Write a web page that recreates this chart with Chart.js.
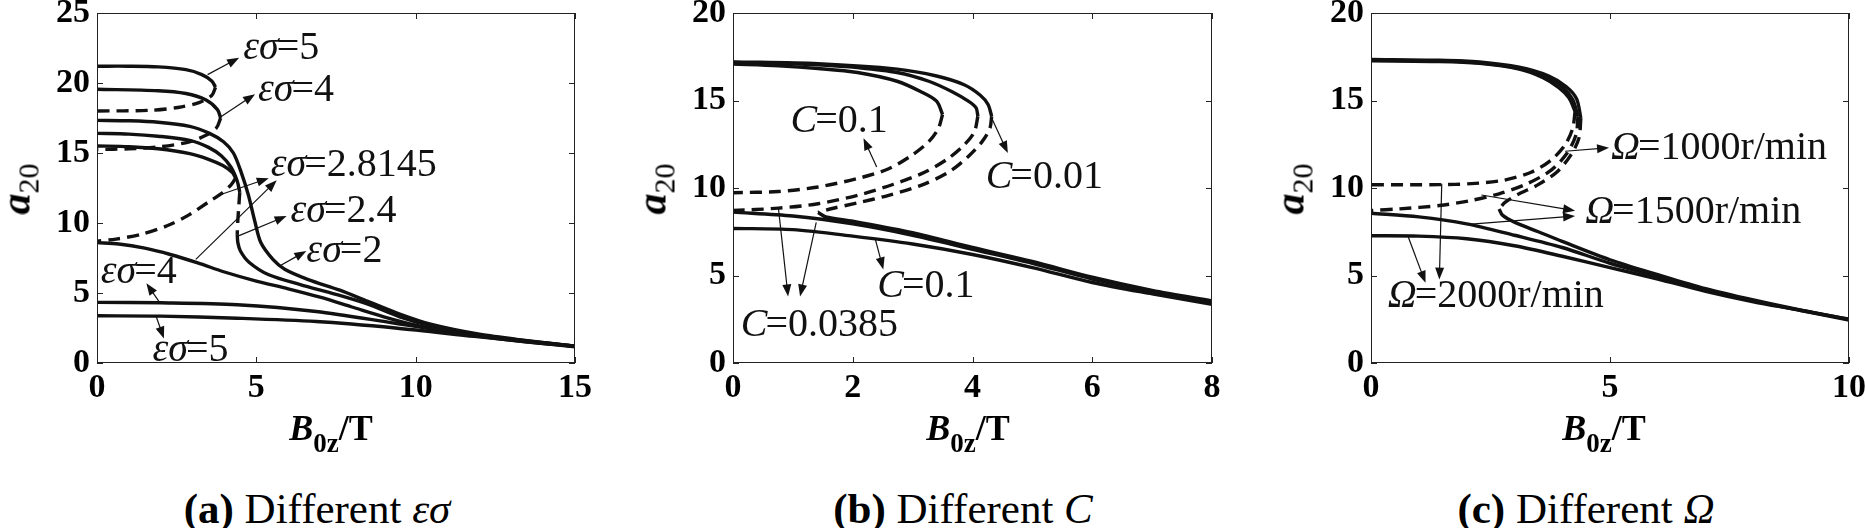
<!DOCTYPE html>
<html>
<head>
<meta charset="utf-8">
<script src="https://cdn.jsdelivr.net/npm/chart.js@4.4.1/dist/chart.umd.min.js"></script>
<style>
  body { margin: 0; background: #fff; width: 1865px; height: 528px; overflow: hidden; position: relative; font-family: "Liberation Serif", serif; color: #000; }
  canvas { position: absolute; }
  .ytitle { position: absolute; top: 189px; font-size: 42px; line-height: 44px; white-space: nowrap; transform: translate(-50%, -50%) rotate(-90deg); }
  .ytitle sub { font-size: 30px; font-weight: normal; vertical-align: -0.3em; }
  .xtitle { position: absolute; top: 410px; font-size: 36px; line-height: 36px; font-weight: bold; white-space: nowrap; transform: translateX(-50%); }
  .xtitle sub { font-size: 27px; vertical-align: -0.45em; }
  .caption { position: absolute; top: 487px; font-size: 43px; line-height: 43px; white-space: nowrap; transform: translateX(-50%); }
</style>
</head>
<body>
<canvas id="chartA"></canvas>
<canvas id="chartB"></canvas>
<canvas id="chartC"></canvas>

<div class="ytitle" style="left:22px"><b><i>a</i></b><sub>20</sub></div>
<div class="ytitle" style="left:658px"><b><i>a</i></b><sub>20</sub></div>
<div class="ytitle" style="left:1296px"><b><i>a</i></b><sub>20</sub></div>

<div class="xtitle" style="left:331px"><i>B</i><sub>0z</sub>/T</div>
<div class="xtitle" style="left:968px"><i>B</i><sub>0z</sub>/T</div>
<div class="xtitle" style="left:1604px"><i>B</i><sub>0z</sub>/T</div>

<div class="caption" style="left:317px"><b>(a)</b> Different <i>εσ</i></div>
<div class="caption" style="left:963px"><b>(b)</b> Different <i>C</i></div>
<div class="caption" style="left:1586px"><b>(c)</b> Different <i>Ω</i></div>

<script>
// ---- (a) different εσ : [B0z, a20]
const es5Upper    = [[0,21.2],[1,21.2],[1.92,21.15],[2.79,20.95],[3.29,20.6],[3.6,20.15],[3.72,19.7]];
const es5Unstable = [[3.72,19.7],[3.6,19.1],[3.2,18.6],[2.54,18.25],[1.67,18.05],[0,18.0]];
const es5Lower    = [[0,3.37],[2,3.35],[4.4,3.2],[6.88,2.96],[9.36,2.5],[11.84,1.9],[15,1.15]];
const es4Upper    = [[0,19.55],[1.92,19.45],[2.79,19.25],[3.41,18.8],[3.78,18.1],[3.88,17.5]];
const es4Unstable = [[3.88,17.5],[3.75,16.8],[3.45,16.3],[2.9,15.8],[2.0,15.45],[1.0,15.3],[0,15.25]];
const es4Lower    = [[0,4.33],[2,4.3],[4.4,4.16],[6.88,3.68],[9.36,2.84],[11.84,2.0],[15,1.2]];
const esCrUpper    = [[0,15.5],[1,15.45],[1.92,15.3],[2.91,14.95],[3.5,14.55],[3.95,14.1],[4.25,13.6],[4.35,13.2]];
const esCrUnstable = [[4.35,13.2],[4.2,12.7],[3.9,12.1],[3.5,11.5],[2.9,10.6],[2.2,9.8],[1.4,9.2],[0.6,8.85],[0,8.7]];
const esCrLower    = [[0,8.6],[0.68,8.5],[1.5,8.2],[2.3,7.75],[3.16,7.15],[4.0,6.5],[5.0,5.85],[6.0,5.3],[7.0,4.7],[8.0,4.0],[9.0,3.3],[10,2.7],[11,2.25],[12,1.9],[13.5,1.5],[15,1.2]];
const es24Upper    = [[0,16.4],[1,16.35],[1.92,16.2],[2.91,15.9],[3.5,15.4],[3.9,14.8],[4.2,14.0],[4.4,13.0],[4.48,12.2]];
const es24Unstable = [[4.48,12.2],[4.45,11.2],[4.42,10.2],[4.4,9.2]];
const es24Lower    = [[4.4,9.2],[4.42,8.6],[4.5,8.0],[4.77,7.2],[5.39,6.3],[6.38,5.6],[7.5,4.9],[8.5,4.2],[9.5,3.3],[10.5,2.65],[12,2.0],[13.5,1.55],[15,1.2]];
const es2Curve     = [[0,17.33],[1,17.3],[1.92,17.2],[2.91,16.9],[3.53,16.4],[3.97,15.8],[4.28,15.0],[4.52,13.65],[4.75,12.0],[4.96,10.05],[5.14,8.6],[5.52,7.4],[5.89,6.7],[6.63,5.96],[7.62,5.2],[8.5,4.4],[9.5,3.5],[10.5,2.75],[12,2.05],[13.5,1.6],[15,1.2]];

// ---- (b) different C
const c01Upper    = [[0,17.08],[0.76,16.98],[1.42,16.83],[2.08,16.6],[2.74,16.1],[3.14,15.5],[3.4,14.96],[3.5,14.2]];
const c01Unstable = [[3.5,14.2],[3.43,13.4],[3.27,12.65],[3.0,11.9],[2.6,11.1],[2.08,10.54],[1.42,10.06],[0.76,9.8],[0,9.73]];
const c01Lower    = [[0,7.69],[1,7.62],[2,7.25],[3,6.8],[4,6.2],[5,5.45],[6,4.6],[7,3.95],[8,3.35]];
const c0385Upper    = [[0,17.17],[0.76,17.13],[1.42,17.04],[2.08,16.88],[2.74,16.6],[3.27,16.1],[3.66,15.5],[3.93,14.96],[4.06,14.58],[4.09,14.1]];
const c0385Unstable = [[4.09,14.1],[4.03,13.2],[3.86,12.46],[3.6,11.7],[3.2,10.9],[2.67,10.2],[2.08,9.58],[1.42,9.1],[0.76,8.85],[0,8.71]];
const c0385Lower    = [[0,8.62],[1,8.4],[2,7.95],[3,7.3],[4,6.5],[5,5.7],[6,4.8],[7,4.1],[8,3.5]];
const c001Upper    = [[0,17.21],[1.42,17.1],[2.74,16.79],[3.4,16.4],[3.86,15.9],[4.13,15.3],[4.26,14.77],[4.32,14.1]];
const c001Unstable = [[4.32,14.1],[4.29,13.4],[4.16,12.65],[3.93,11.8],[3.6,10.9],[3.14,10.15],[2.6,9.58],[2.08,9.15],[1.62,8.8],[1.42,8.6]];
const c001Lower    = [[1.42,8.6],[1.55,8.35],[2,8.1],[3,7.45],[4,6.6],[5,5.8],[6,4.9],[7,4.15],[8,3.55]];

// ---- (c) different Ω
const om1000Upper    = [[0,17.35],[1.43,17.3],[2.27,17.2],[3.1,16.9],[3.72,16.4],[4.08,15.8],[4.3,15.1],[4.39,14.0]];
const om1000Unstable = [[4.39,14.0],[4.35,12.85],[4.18,11.88],[3.89,10.92],[3.47,10.15],[3.1,9.67],[2.81,9.19],[2.68,8.8]];
const om1000Lower    = [[2.68,8.8],[2.75,8.45],[3.0,8.05],[3.5,7.5],[4,6.95],[5,5.9],[6,5.05],[7,4.25],[8,3.6],[9,3.02],[10,2.5]];
const om1500Upper    = [[0,17.3],[1.43,17.27],[2.27,17.15],[3.1,16.83],[3.68,16.35],[4.02,15.73],[4.22,15.06],[4.33,14.1]];
const om1500Unstable = [[4.33,14.1],[4.29,13.04],[4.1,11.98],[3.77,11.02],[3.27,10.25],[2.68,9.67],[2.1,9.29],[1.43,9.0],[0.6,8.81],[0,8.71]];
const om1500Lower    = [[0,8.56],[1,8.35],[2,7.95],[3,7.3],[4,6.6],[5,5.7],[6,4.95],[7,4.2],[8,3.55],[9,3.0],[10,2.5]];
const om2000Upper    = [[0,17.27],[1.43,17.23],[2.27,17.12],[3.1,16.79],[3.6,16.3],[3.93,15.73],[4.14,15.15],[4.27,14.38]];
const om2000Unstable = [[4.27,14.38],[4.22,13.42],[4.06,12.46],[3.77,11.6],[3.35,10.9],[2.77,10.44],[2.1,10.25],[1.43,10.19],[0,10.19]];
const om2000Lower    = [[0,7.27],[1,7.25],[2,7.1],[3,6.7],[4,6.1],[5,5.45],[6,4.8],[7,4.1],[8,3.5],[9,3.0],[10,2.45]];

// labels: [x, y, italic part, rest] and arrows: [x0, y0, x1, y1] (head at x1,y1)
const labelsA = [[4.59,22.5,'εσ','=5'],[5.05,19.5,'εσ','=4'],[5.45,14.1,'εσ','=2.8145'],[6.07,10.8,'εσ','=2.4'],[6.57,8.0,'εσ','=2'],[0.12,6.5,'εσ','=4'],[1.74,0.9,'εσ','=5']];
const arrowsA = [[3.47,20.6,4.46,21.8],[3.9,17.6,4.96,19.2],[3.84,12.0,5.39,13.2],[3.1,7.4,5.64,13.05],[4.46,9.1,5.95,10.5],[5.7,6.9,6.57,8.0],[1.98,4.28,1.55,5.7],[1.86,3.3,2.1,1.75]];
const labelsB = [[0.96,13.8,'C','=0.1'],[4.22,10.6,'C','=0.01'],[2.41,4.4,'C','=0.1'],[0.13,2.17,'C','=0.0385']];
const arrowsB = [[2.4,11.2,2.18,12.85],[4.32,14.0,4.59,12.0],[2.38,7.04,2.51,5.35],[0.76,8.81,0.92,3.8],[1.39,8.04,1.12,3.8]];
const labelsC = [[5.02,12.27,'Ω','=1000r/min'],[4.48,8.6,'Ω','=1500r/min'],[0.35,3.8,'Ω','=2000r/min']];
const arrowsC = [[4.06,12.1,4.98,12.3],[2.31,9.6,4.27,8.7],[2.1,7.94,4.27,8.4],[0.77,7.27,1.14,4.58],[1.48,10.25,1.43,4.77]];

const FONT = '"Liberation Serif", serif';
const W_Y = 100, H_X = 60, PAD_T = 40, PAD_R = 40;
const TOP = 13, BOTTOM = 363;

function solid(pts) {
    return { data: pts.map(p => ({ x: p[0], y: p[1] })), borderColor: '#111', borderWidth: 3.4, tension: 0.3, pointRadius: 0, showLine: true };
}
function dashed(pts) {
    const d = solid(pts);
    d.borderDash = [12, 7];
    return d;
}

// frame with inward ticks, annotation texts and arrows
function makeDecor(labels, arrows) {
    return {
        id: 'decor',
        afterDatasetsDraw(chart) {
            const { ctx, chartArea: a, scales: { x, y } } = chart;
            ctx.save();
            ctx.strokeStyle = '#222';
            ctx.lineWidth = 1;
            ctx.strokeRect(a.left + 0.5, a.top + 0.5, a.width - 1, a.height - 1);
            ctx.beginPath();
            x.ticks.forEach(t => {
                const px = Math.round(x.getPixelForValue(t.value)) + 0.5;
                ctx.moveTo(px, a.bottom); ctx.lineTo(px, a.bottom - 6);
                ctx.moveTo(px, a.top); ctx.lineTo(px, a.top + 6);
            });
            y.ticks.forEach(t => {
                const py = Math.round(y.getPixelForValue(t.value)) + 0.5;
                ctx.moveTo(a.left, py); ctx.lineTo(a.left + 6, py);
                ctx.moveTo(a.right, py); ctx.lineTo(a.right - 6, py);
            });
            ctx.stroke();

            // arrows
            ctx.strokeStyle = '#111';
            ctx.fillStyle = '#111';
            ctx.lineWidth = 1.2;
            arrows.forEach(ar => {
                const x0 = x.getPixelForValue(ar[0]), y0 = y.getPixelForValue(ar[1]);
                const x1 = x.getPixelForValue(ar[2]), y1 = y.getPixelForValue(ar[3]);
                const ang = Math.atan2(y1 - y0, x1 - x0);
                ctx.beginPath();
                ctx.moveTo(x0, y0);
                ctx.lineTo(x1 - 8 * Math.cos(ang), y1 - 8 * Math.sin(ang));
                ctx.stroke();
                ctx.beginPath();
                ctx.moveTo(x1, y1);
                ctx.lineTo(x1 - 12 * Math.cos(ang) + 4.5 * Math.sin(ang), y1 - 12 * Math.sin(ang) - 4.5 * Math.cos(ang));
                ctx.lineTo(x1 - 12 * Math.cos(ang) - 4.5 * Math.sin(ang), y1 - 12 * Math.sin(ang) + 4.5 * Math.cos(ang));
                ctx.closePath();
                ctx.fill();
            });

            // labels
            ctx.textBaseline = 'middle';
            ctx.textAlign = 'left';
            labels.forEach(lb => {
                const px = x.getPixelForValue(lb[0]), py = y.getPixelForValue(lb[1]);
                ctx.font = 'italic 40px ' + FONT;
                ctx.fillText(lb[2], px, py);
                const w = ctx.measureText(lb[2]).width;
                ctx.font = '40px ' + FONT;
                ctx.fillText(lb[3], px + w - 2, py);
            });
            ctx.restore();
        }
    };
}

function makeChart(id, L, R, xMax, xStep, yMax, datasets, labels, arrows) {
    const cv = document.getElementById(id);
    const w = R - L + W_Y + PAD_R, h = BOTTOM - TOP + PAD_T + H_X;
    cv.width = w; cv.height = h;
    cv.style.width = w + 'px'; cv.style.height = h + 'px';
    cv.style.left = (L - W_Y) + 'px';
    cv.style.top = (TOP - PAD_T) + 'px';
    const tickFont = { family: FONT, size: 34, weight: 'bold' };
    return new Chart(cv.getContext('2d'), {
        type: 'scatter',
        data: { datasets: datasets },
        options: {
            responsive: false,
            animation: false,
            devicePixelRatio: 1,
            layout: { padding: { left: 0, top: PAD_T, right: PAD_R, bottom: 0 } },
            plugins: { legend: { display: false }, tooltip: { enabled: false } },
            scales: {
                x: {
                    type: 'linear', min: 0, max: xMax,
                    grid: { display: false, drawTicks: false }, border: { display: false },
                    ticks: { stepSize: xStep, color: '#000', font: tickFont, padding: 5, maxRotation: 0 },
                    afterFit: s => { s.height = H_X; }
                },
                y: {
                    type: 'linear', min: 0, max: yMax,
                    grid: { display: false, drawTicks: false }, border: { display: false },
                    ticks: { stepSize: 5, color: '#000', font: tickFont, padding: 7 },
                    afterFit: s => { s.width = W_Y; }
                }
            }
        },
        plugins: [makeDecor(labels, arrows)]
    });
}

makeChart('chartA', 97, 575, 15, 5, 25, [
    solid(es5Upper), dashed(es5Unstable), solid(es5Lower),
    solid(es4Upper), dashed(es4Unstable), solid(es4Lower),
    solid(esCrUpper), dashed(esCrUnstable), solid(esCrLower),
    solid(es24Upper), dashed(es24Unstable), solid(es24Lower),
    solid(es2Curve)
], labelsA, arrowsA);

makeChart('chartB', 733, 1212, 8, 2, 20, [
    solid(c01Upper), dashed(c01Unstable), solid(c01Lower),
    solid(c0385Upper), dashed(c0385Unstable), solid(c0385Lower),
    solid(c001Upper), dashed(c001Unstable), solid(c001Lower)
], labelsB, arrowsB);

makeChart('chartC', 1371, 1849, 10, 5, 20, [
    solid(om1000Upper), dashed(om1000Unstable), solid(om1000Lower),
    solid(om1500Upper), dashed(om1500Unstable), solid(om1500Lower),
    solid(om2000Upper), dashed(om2000Unstable), solid(om2000Lower)
], labelsC, arrowsC);
</script>
</body>
</html>
